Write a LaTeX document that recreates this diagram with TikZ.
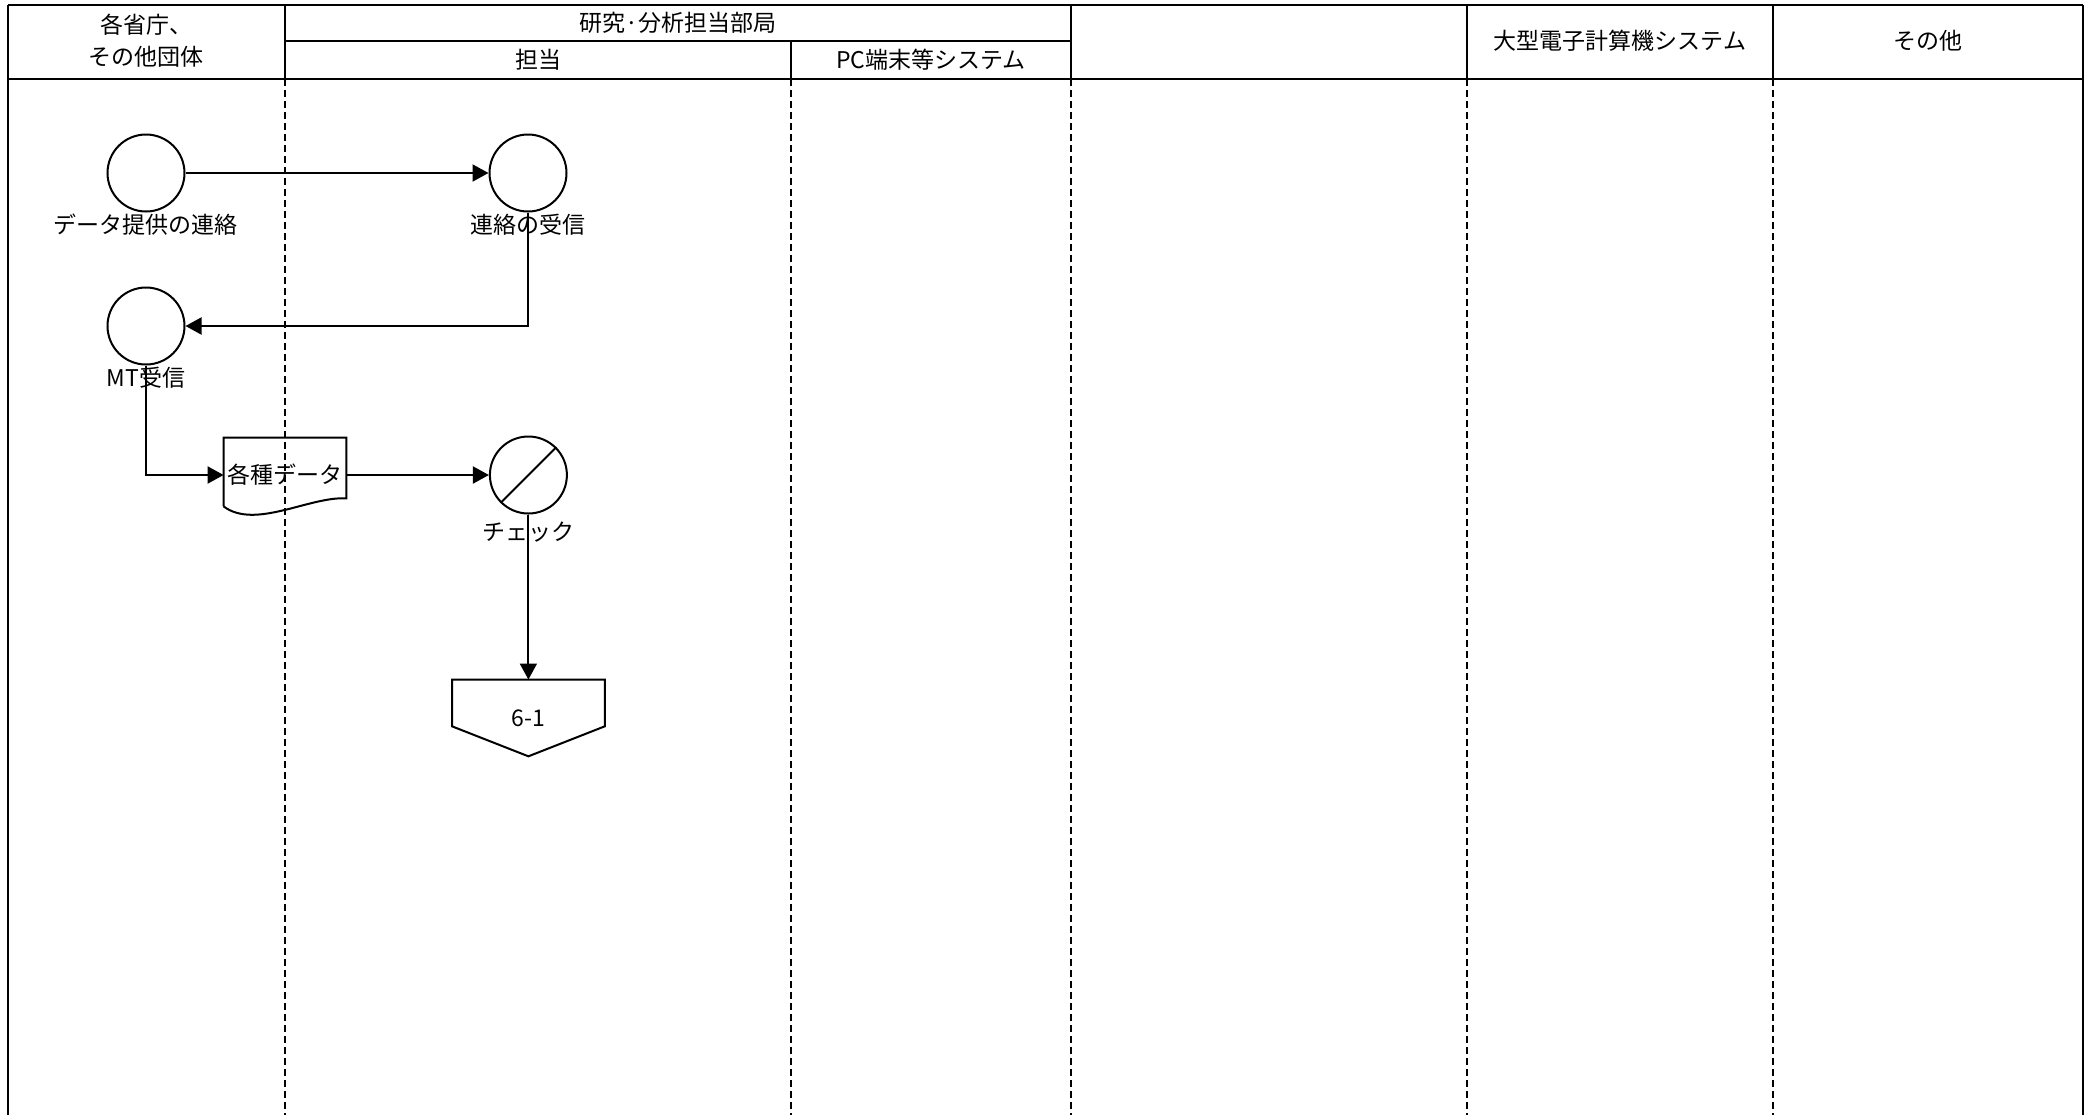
\documentclass[tikz,border=0pt]{standalone}
\usepackage{fontspec}
\setmainfont{Noto Sans CJK JP}
\usepackage{tikz}
\usetikzlibrary{arrows.meta, positioning, calc}

\begin{document}
\begin{tikzpicture}[x=0.5pt, y=-0.5pt, font=\fontsize{11.5}{16}\selectfont]
    \tikzset{
        frame/.style={draw=black, line width=1.1pt},
        lanesep/.style={draw=black, line width=1pt, dash pattern=on 3.5pt off 2pt},
        hdr/.style={inner sep=0pt, align=center},
        proc/.style={circle, draw=black, line width=1pt, minimum size=38.5pt, inner sep=0pt},
        lbl/.style={inner sep=0pt},
        docbox/.style={rectangle, minimum width=61pt, minimum height=37pt, inner sep=0pt},
        pagebox/.style={rectangle, minimum width=76pt, minimum height=38pt, inner sep=0pt},
        arrow/.style={draw=black, line width=1pt, -{Triangle[length=8pt, width=8.5pt]}}
    }
    \useasboundingbox (0,0) rectangle (2089,1115);

    \draw [frame] (8,5) -- (2083,5);
    \draw [frame] (285,41) -- (1071,41);
    \draw [frame] (8,79) -- (2083,79);
    \draw [frame] (8,5) -- (8,1115);
    \draw [frame] (2083,5) -- (2083,1115);
    \draw [frame] (285,5) -- (285,79);
    \draw [frame] (791,41) -- (791,79);
    \draw [frame] (1071,5) -- (1071,79);
    \draw [frame] (1467,5) -- (1467,79);
    \draw [frame] (1773,5) -- (1773,79);

    \draw [lanesep] (285,79) -- (285,1115);
    \draw [lanesep] (791,79) -- (791,1115);
    \draw [lanesep] (1071,79) -- (1071,1115);
    \draw [lanesep] (1467,79) -- (1467,1115);
    \draw [lanesep] (1773,79) -- (1773,1115);

    \node [hdr] (hministry) at (146,41) {各省庁、\\その他団体};
    \node [hdr] (hresearch) at (678,23) {研究·分析担当部局};
    \node [hdr] (hstaff) at (538,60) {担当};
    \node [hdr] (hpc) at (931,60) {PC端末等システム};
    \node [hdr] (hmainframe) at (1620,41) {大型電子計算機システム};
    \node [hdr] (hother) at (1928,41) {その他};

    \node [proc] (sendnote) at (146,173) {};
    \node [lbl, below=0.5pt of sendnote] (sendlbl) {データ提供の連絡};
    \node [proc, right=151.5pt of sendnote] (recvnote) {};
    \node [lbl, below=0.5pt of recvnote] (recvlbl) {連絡の受信};
    \node [proc, below=37pt of sendnote] (mtrecv) {};
    \node [lbl, below=0.5pt of mtrecv] (mtlbl) {MT受信};
    \node [docbox] (docdata) at (285,475) {各種データ};
    \node [proc, right=71.25pt of docdata] (chk) {};
    \node [lbl, below=3.5pt of chk] (chklbl) {チェック};
    \node [pagebox, below=82.5pt of chk] (conn) {6-1};

    \draw [line width=1pt] (chk.225) -- (chk.45);
    \draw [line width=1pt] ($(docdata.south west)+(0,-6)$) -- (docdata.north west) -- (docdata.north east) -- ($(docdata.south east)+(0,-14)$)
        .. controls (310,496) and (255,530) .. ($(docdata.south west)+(0,-6)$);
    \draw [line width=1pt] (conn.north west) -- (conn.north east) -- ($(conn.south east)+(0,-30)$) -- (conn.south) -- ($(conn.south west)+(0,-30)$) -- cycle;

    \draw [arrow] (sendnote) -- (recvnote);
    \draw [arrow] (recvnote.south) |- (mtrecv.east);
    \draw [arrow] (mtrecv.south) |- (docdata.west);
    \draw [arrow] (docdata.east) -- (chk.west);
    \draw [arrow] (chk.south) -- (conn.north);
\end{tikzpicture}
\end{document}
